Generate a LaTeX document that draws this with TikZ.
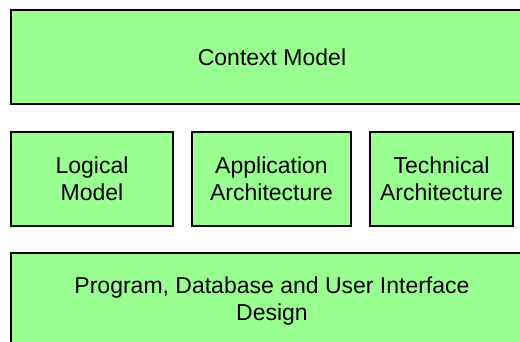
\documentclass[tikz,border=0pt]{standalone}
\usepackage{fontspec}
\setmainfont{Liberation Sans}
\usepackage{xcolor}
\usepackage{tikz}
\definecolor{boxgreen}{RGB}{153,255,145}
\tikzset{
  layer/.style={
    draw=black,
    line width=1.5pt,
    fill=boxgreen,
    inner sep=0pt,
    align=center,
    font=\fontsize{23}{27}\selectfont}
  }

\begin{document}
\begin{tikzpicture}[x=1pt,y=-1pt]
    \useasboundingbox (0,0) rectangle (520,342);
    \node[layer, minimum width=522pt, minimum height=94pt] (ctx) at (272,57) {Context Model};
    \node[layer, minimum width=162pt, minimum height=94pt] (logic) at (92,179) {Logical\\Model};
    \node[layer, minimum width=159pt, minimum height=94pt] (app) at (271.5,179) {Application\\Architecture};
    \node[layer, minimum width=143pt, minimum height=94pt] (tech) at (441.5,179) {Technical\\Architecture};
    \node[layer, minimum width=522pt, minimum height=96pt] (prog) at (272,301) {Program, Database and User Interface\\Design};
  \end{tikzpicture}
\end{document}
